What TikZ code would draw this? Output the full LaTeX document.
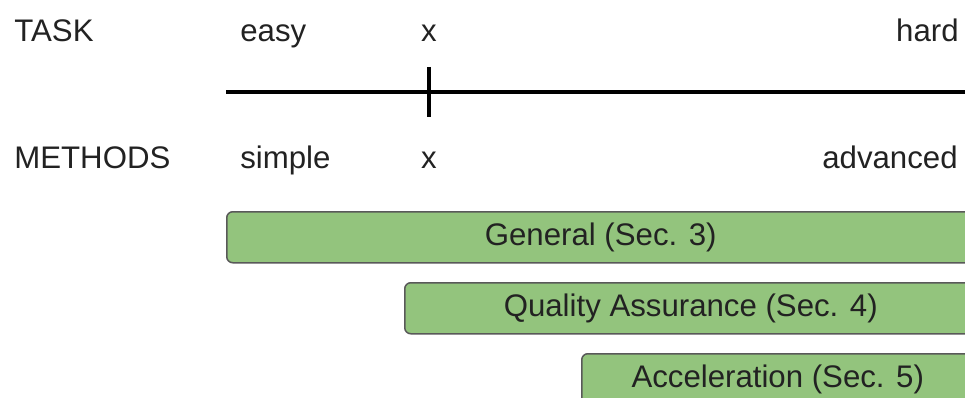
\documentclass[tikz,border=0pt]{standalone}
\usepackage{fontspec}
\setmainfont{Liberation Sans}
\definecolor{bargreen}{HTML}{93C47D}
\definecolor{bardraw}{HTML}{595959}
\definecolor{txt}{HTML}{222222}
\tikzset{every picture/.style={line width=0.75pt}}
\tikzset{
  lbl/.style={inner sep=0pt,text=txt,font=\fontsize{31.2}{37}\selectfont},
  bar/.style={lbl,draw=bardraw,fill=bargreen,line width=1.5pt,rounded corners=6pt,
    minimum height=51pt,anchor=north west}
}
\begin{document}
\begin{tikzpicture}[x=1pt,y=-1pt]
\clip (0,0) rectangle (965,398);
\fill[white] (0,0) rectangle (965,398);
% labels
\node[lbl,anchor=base west] (task) at (14,42) {TASK};
\node[lbl,anchor=base west] (easy) at (240,42) {easy};
\node[lbl,anchor=base] (taskx) at (429,42) {x};
\node[lbl,anchor=base east] (hard) at (959,42) {hard};
\node[lbl,anchor=base west] (methods) at (14,168) {METHODS};
\node[lbl,anchor=base west] (simple) at (240,168) {simple};
\node[lbl,anchor=base] (methx) at (429,168) {x};
\node[lbl,anchor=base east] (advanced) at (958,168) {advanced};
% axis
\coordinate (axl) at (226,92);
\coordinate (axr) at (970,92);
\coordinate (tkt) at (429,67);
\coordinate (tkb) at (429,117);
\draw[line width=3.5pt] (axl)--(axr); %line
\draw[line width=3.5pt] (tkt)--(tkb); %tick
% bars
\node[bar,minimum width=748pt] (general) at (226,211) {General (Sec. 3)};
\node[bar,minimum width=572pt] (qa) at (404,282) {Quality Assurance (Sec. 4)};
\node[bar,minimum width=392pt] (accel) at (581,353) {Acceleration (Sec. 5)};
\end{tikzpicture}
\end{document}
